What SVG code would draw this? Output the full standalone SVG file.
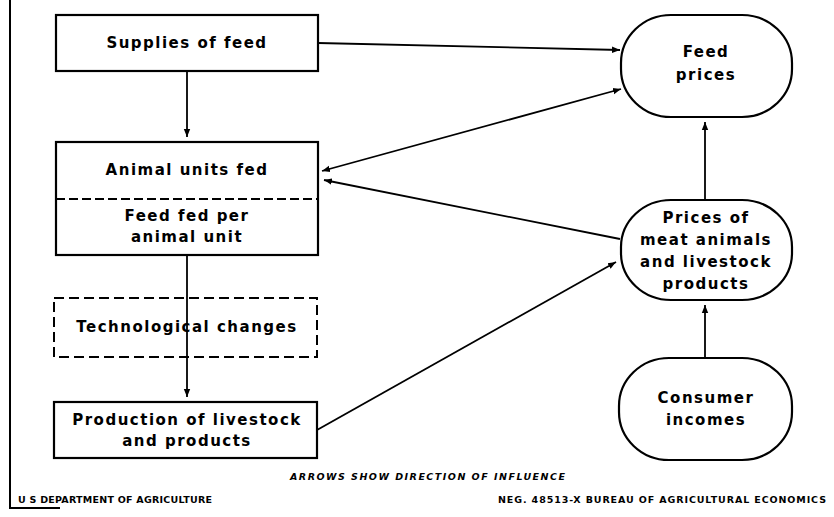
<svg xmlns="http://www.w3.org/2000/svg" width="834" height="517" viewBox="0 0 834 517">
<defs>
<marker id="ah" viewBox="0 0 10 10" refX="10" refY="5" markerWidth="8" markerHeight="8" markerUnits="userSpaceOnUse" orient="auto-start-reverse">
<path d="M0,1 L10,5 L0,9 Z" fill="#000"/>
</marker>
</defs>
<style>
.box{fill:#fff;stroke:#000;stroke-width:2.2}
.dash{fill:none;stroke:#000;stroke-width:2;stroke-dasharray:10 5}
.lbl{font-family:"DejaVu Sans","Liberation Sans",sans-serif;font-weight:bold;font-size:15px;letter-spacing:1.5px;text-anchor:middle;fill:#000}
.cap{font-family:"DejaVu Sans","Liberation Sans",sans-serif;font-weight:bold;font-size:9.5px;fill:#000}
.con{fill:none;stroke:#000;stroke-width:1.8;marker-end:url(#ah)}
</style>
<rect width="834" height="517" fill="#fff"/>
<path d="M10,0 L10,508 L60,508" fill="none" stroke="#000" stroke-width="2"/>

<g id="connectors">
<path class="con" d="M187,71 L187,137"/>
<path class="con" d="M187,255 L187,397"/>
<path class="con" d="M318,43 L620,50"/>
<path class="con" d="M322,171 L621,89" style="marker-start:url(#ah)"/>
<path class="con" d="M620,239 L324,180"/>
<path class="con" d="M705,200 L705,122"/>
<path class="con" d="M705,358 L705,305"/>
<path class="con" d="M317,430 L616,262"/>
</g>

<g id="supplies">
<rect class="box" x="56" y="15" width="262" height="56"/>
<text class="lbl" x="187" y="48">Supplies of feed</text>
</g>

<g id="animal-units">
<rect class="box" x="56" y="142" width="262" height="113"/>
<line x1="56" y1="199" x2="318" y2="199" stroke="#000" stroke-width="1.8" stroke-dasharray="9 4"/>
<text class="lbl" x="187" y="175">Animal units fed</text>
<text class="lbl" x="187" y="221">Feed fed per</text>
<text class="lbl" x="187" y="242">animal unit</text>
</g>

<g id="tech">
<rect x="54" y="298" width="263" height="59" fill="#fff"/>
<line x1="187" y1="298" x2="187" y2="357" stroke="#000" stroke-width="1.8"/>
<rect class="dash" x="54" y="298" width="263" height="59"/>
<text class="lbl" x="187" y="332">Technological changes</text>
</g>

<g id="production">
<rect class="box" x="54" y="402" width="263" height="56"/>
<text class="lbl" x="187" y="425">Production of livestock</text>
<text class="lbl" x="187" y="446">and products</text>
</g>

<g id="feed-prices">
<rect class="box" x="621" y="15" width="171" height="102" rx="50" ry="48"/>
<text class="lbl" x="706" y="57">Feed</text>
<text class="lbl" x="706" y="80">prices</text>
</g>

<g id="meat-prices">
<rect class="box" x="621" y="200" width="171" height="100" rx="50" ry="47"/>
<text class="lbl" x="706" y="223">Prices of</text>
<text class="lbl" x="706" y="245">meat animals</text>
<text class="lbl" x="706" y="267">and livestock</text>
<text class="lbl" x="706" y="289">products</text>
</g>

<g id="consumer">
<rect class="box" x="619" y="358" width="173" height="102" rx="50" ry="48"/>
<text class="lbl" x="706" y="403">Consumer</text>
<text class="lbl" x="706" y="425">incomes</text>
</g>

<text class="cap" x="290" y="480" font-style="italic" textLength="275" lengthAdjust="spacing">ARROWS SHOW DIRECTION OF INFLUENCE</text>
<text class="cap" x="18" y="503" textLength="194" lengthAdjust="spacing">U S DEPARTMENT OF AGRICULTURE</text>
<text class="cap" x="498" y="503" textLength="328" lengthAdjust="spacing">NEG. 48513-X  BUREAU OF AGRICULTURAL ECONOMICS</text>
</svg>
